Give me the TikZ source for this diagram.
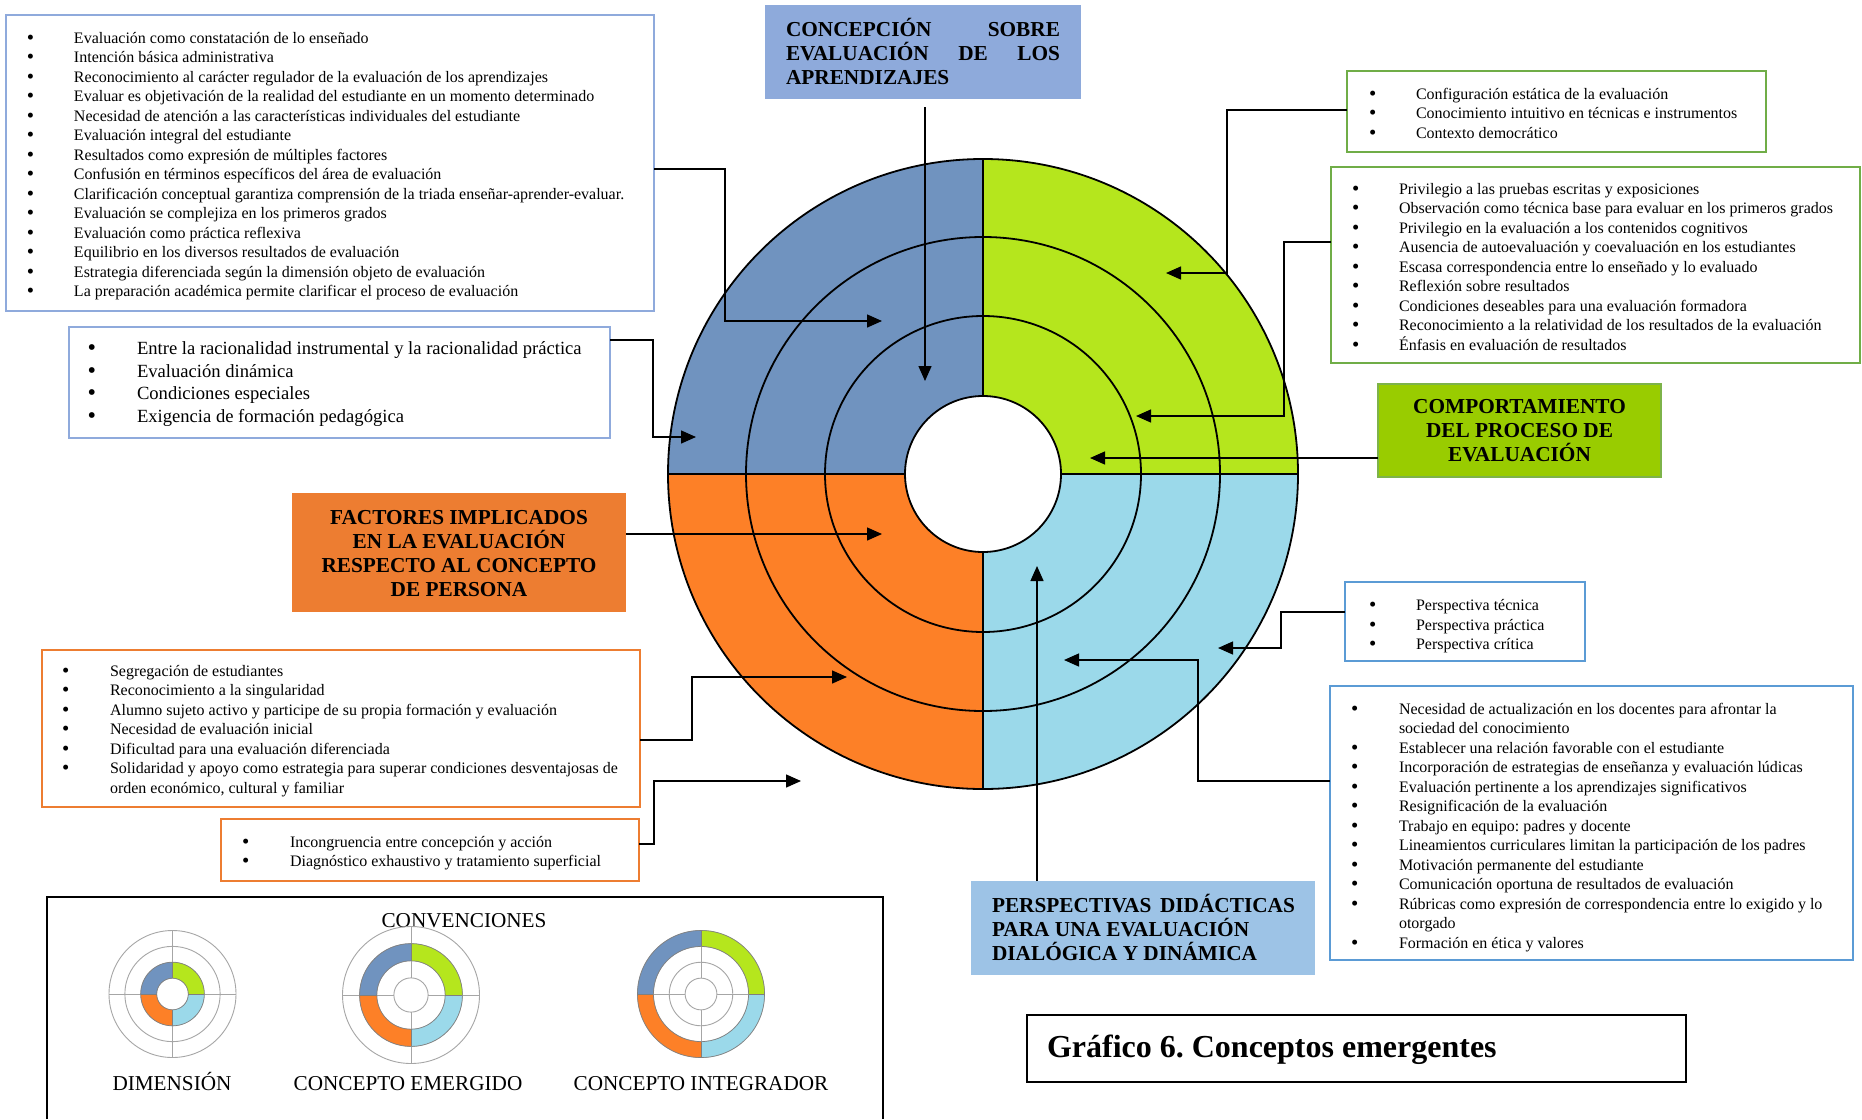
\documentclass[tikz,border=0pt]{standalone}
\usepackage{fontspec}
\setmainfont{Liberation Serif}
\usetikzlibrary{arrows.meta,calc}
\frenchspacing

% quadrant colours of the ring diagram
\definecolor{qblue}{HTML}{7093BF}
\definecolor{qgreen}{HTML}{B5E61D}
\definecolor{qorange}{HTML}{FD8027}
\definecolor{qcyan}{HTML}{9BD9EA}
% outline colours of the list boxes
\definecolor{edgeperi}{HTML}{8FAADC}
\definecolor{edgegreen}{HTML}{70AD47}
\definecolor{edgeorange}{HTML}{ED7D31}
\definecolor{edgeblue}{HTML}{5B9BD5}
% fills of the heading boxes
\definecolor{headblue}{HTML}{8EAADB}
\definecolor{headgreen}{HTML}{99CC00}
\definecolor{headgreenline}{HTML}{7DB34A}
\definecolor{headorange}{HTML}{ED7D31}
\definecolor{headsky}{HTML}{9DC3E6}
\definecolor{icongray}{HTML}{A6A6A6}
\definecolor{icondark}{HTML}{7F7F7F}

\newcommand\listfont{\fontsize{16}{19.5}\selectfont}
\newcommand\bigfont{\fontsize{18.6}{22.6}\selectfont}
\newcommand\headfont{\fontsize{21.3}{24.2}\selectfont\bfseries}
\newcommand\convfont{\fontsize{21.2}{24}\selectfont}

% list bullet, a little heavier than the plain text bullet
\newcommand\bul{\raisebox{-1pt}{\scalebox{1.3}{\textbullet}}}
% bullet list: #1 = distance from bullet to text, #2 = rows
\newcommand\bulletlist[2]{\begin{tabular}[t]{@{}p{#1}@{}l@{}}#2\end{tabular}}

% small legend wheel: centre x, centre y, radius, coloured ring (1 inner .. 3 outer)
\newcommand\ringicon[4]{%
  \begin{scope}[shift={(#1,#2)}]
    \foreach \f in {0.25,0.5,0.75,1}
      \draw[icongray, line width=0.9pt] (0,0) circle ({\f*#3});
    \foreach \a in {0,90,180,270}
      \draw[icongray, line width=0.9pt] (\a:{0.25*#3}) -- (\a:{#3});
    \pgfmathsetmacro\rin{0.25*(#4)*#3}
    \pgfmathsetmacro\rout{0.25*(#4+1)*#3}
    \begin{scope}\clip (0,0) rectangle (-#3-2,-#3-2);
      \fill[qblue, even odd rule] (0,0) circle (\rout) circle (\rin);\end{scope}
    \begin{scope}\clip (0,0) rectangle (#3+2,-#3-2);
      \fill[qgreen, even odd rule] (0,0) circle (\rout) circle (\rin);\end{scope}
    \begin{scope}\clip (0,0) rectangle (-#3-2,#3+2);
      \fill[qorange, even odd rule] (0,0) circle (\rout) circle (\rin);\end{scope}
    \begin{scope}\clip (0,0) rectangle (#3+2,#3+2);
      \fill[qcyan, even odd rule] (0,0) circle (\rout) circle (\rin);\end{scope}
    \draw[icondark, line width=0.6pt] (0,0) circle (\rout) circle (\rin);
    \foreach \a in {0,90,180,270}
      \draw[icondark, line width=0.6pt] (\a:\rin) -- (\a:\rout);
  \end{scope}}

\tikzset{
  listframe/.style={draw=#1, line width=2.5pt, inner sep=0pt, outer sep=0pt, anchor=north west},
  headbox/.style={fill=#1, inner sep=0pt, outer sep=0pt, anchor=north west},
  txt/.style={inner sep=0pt, outer sep=0pt, anchor=base west},
  conn/.style={draw=black, line width=1.4pt, -{Triangle[length=15pt,width=13pt]}},
  ringline/.style={draw=black, line width=1.8pt},
}

\begin{document}
\begin{tikzpicture}[x=1pt,y=-1pt]
\useasboundingbox (0,0) rectangle (1862,1119);
\fill[white] (0,0) rectangle (1862,1119);

% ---------------- central wheel ----------------
\coordinate (O) at (983,474);
\begin{scope}\clip (O) rectangle ++(-317,-317); \fill[qblue] (O) circle (315);\end{scope}
\begin{scope}\clip (O) rectangle ++(317,-317); \fill[qgreen] (O) circle (315);\end{scope}
\begin{scope}\clip (O) rectangle ++(-317,317); \fill[qorange] (O) circle (315);\end{scope}
\begin{scope}\clip (O) rectangle ++(317,317); \fill[qcyan] (O) circle (315);\end{scope}
\draw[ringline] (O) circle (315);
\draw[ringline] (O) circle (237);
\draw[ringline] (O) circle (158);
\draw[ringline, fill=white] (O) circle (78);
\draw[ringline] (O) ++(-315,0) -- ++(237,0);
\draw[ringline] (O) ++(78,0) -- ++(237,0);
\draw[ringline] (O) ++(0,-315) -- ++(0,237);
\draw[ringline] (O) ++(0,78) -- ++(0,237);

% ---------------- heading boxes ----------------
\node[headbox=headblue, minimum width=316, minimum height=94] (tc) at (765,5) {};
\node[txt] (tct) at (786,36) {\parbox[t]{274pt}{\headfont CONCEPCIÓN SOBRE\linebreak EVALUACIÓN DE LOS\linebreak APRENDIZAJES}};

\node[headbox=headorange, minimum width=334, minimum height=119] (tf) at (292,493) {};
\node[txt] (tft) at (309,524) {\parbox[t]{300pt}{\centering\headfont FACTORES IMPLICADOS\\ EN LA EVALUACIÓN\\ RESPECTO AL CONCEPTO\\ DE PERSONA}};

\node[headbox=headgreen, draw=headgreenline, line width=2pt, minimum width=283, minimum height=93] (tg) at (1378,384) {};
\node[txt] (tgt) at (1384.5,413.5) {\parbox[t]{270pt}{\centering\headfont COMPORTAMIENTO\\ DEL PROCESO DE\\ EVALUACIÓN}};

\node[headbox=headsky, minimum width=344, minimum height=94] (tp) at (971,881) {};
\node[txt] (tpt) at (992,912.5) {\parbox[t]{303pt}{\headfont PERSPECTIVAS DIDÁCTICAS\linebreak PARA UNA EVALUACIÓN\\ DIALÓGICA Y DINÁMICA}};

% ---------------- list boxes ----------------
\node[listframe=edgeperi, minimum width=648, minimum height=296] (b1) at (6,15) {};
\node[txt, font=\listfont] (b1t) at (27,43) {\bulletlist{47pt}{%
\bul & Evaluación como constatación de lo enseñado\\
\bul & Intención básica administrativa\\
\bul & Reconocimiento al carácter regulador de la evaluación de los aprendizajes\\
\bul & Evaluar es objetivación de la realidad del estudiante en un momento determinado\\
\bul & Necesidad de atención a las características individuales del estudiante\\
\bul & Evaluación integral del estudiante\\
\bul & Resultados como expresión de múltiples factores\\
\bul & Confusión en términos específicos del área de evaluación\\
\bul & Clarificación conceptual garantiza comprensión de la triada enseñar-aprender-evaluar.\\
\bul & Evaluación se complejiza en los primeros grados\\
\bul & Evaluación como práctica reflexiva\\
\bul & Equilibrio en los diversos resultados de evaluación\\
\bul & Estrategia diferenciada según la dimensión objeto de evaluación\\
\bul & La preparación académica permite clarificar el proceso de evaluación}};

\node[listframe=edgeperi, minimum width=541, minimum height=111] (b2) at (69,327) {};
\node[txt, font=\bigfont] (b2t) at (87.5,354.5) {\bulletlist{49.5pt}{%
\bul & Entre la racionalidad instrumental y la racionalidad práctica\\
\bul & Evaluación dinámica\\
\bul & Condiciones especiales\\
\bul & Exigencia de formación pedagógica}};

\node[listframe=edgegreen, minimum width=419, minimum height=81] (g1) at (1347,71) {};
\node[txt, font=\listfont] (g1t) at (1369,99) {\bulletlist{47pt}{%
\bul & Configuración estática de la evaluación\\
\bul & Conocimiento intuitivo en técnicas e instrumentos\\
\bul & Contexto democrático}};

\node[listframe=edgegreen, minimum width=529, minimum height=196] (g2) at (1331,167) {};
\node[txt, font=\listfont] (g2t) at (1352,194) {\bulletlist{47pt}{%
\bul & Privilegio a las pruebas escritas y exposiciones\\
\bul & Observación como técnica base para evaluar en los primeros grados\\
\bul & Privilegio en la evaluación a los contenidos cognitivos\\
\bul & Ausencia de autoevaluación y coevaluación en los estudiantes\\
\bul & Escasa correspondencia entre lo enseñado y lo evaluado\\
\bul & Reflexión sobre resultados\\
\bul & Condiciones deseables para una evaluación formadora\\
\bul & Reconocimiento a la relatividad de los resultados de la evaluación\\
\bul & Énfasis en evaluación de resultados}};

\node[listframe=edgeorange, minimum width=598, minimum height=157] (o1) at (42,650) {};
\node[txt, font=\listfont] (o1t) at (62,676) {\bulletlist{48pt}{%
\bul & Segregación de estudiantes\\
\bul & Reconocimiento a la singularidad\\
\bul & Alumno sujeto activo y participe de su propia formación y evaluación\\
\bul & Necesidad de evaluación inicial\\
\bul & Dificultad para una evaluación diferenciada\\
\bul & Solidaridad y apoyo como estrategia para superar condiciones desventajosas de\\
 & orden económico, cultural y familiar}};

\node[listframe=edgeorange, minimum width=418, minimum height=62] (o2) at (221,819) {};
\node[txt, font=\listfont] (o2t) at (242,847) {\bulletlist{48pt}{%
\bul & Incongruencia entre concepción y acción\\
\bul & Diagnóstico exhaustivo y tratamiento superficial}};

\node[listframe=edgeblue, minimum width=240, minimum height=79] (s1) at (1345,582) {};
\node[txt, font=\listfont] (s1t) at (1369,610.5) {\bulletlist{47pt}{%
\bul & Perspectiva técnica\\
\bul & Perspectiva práctica\\
\bul & Perspectiva crítica}};

\node[listframe=edgeblue, minimum width=523, minimum height=274] (s2) at (1330,686) {};
\node[txt, font=\listfont] (s2t) at (1351,714) {\bulletlist{48pt}{%
\bul & Necesidad de actualización en los docentes para afrontar la\\
 & sociedad del conocimiento\\
\bul & Establecer una relación favorable con el estudiante\\
\bul & Incorporación de estrategias de enseñanza y evaluación lúdicas\\
\bul & Evaluación pertinente a los aprendizajes significativos\\
\bul & Resignificación de la evaluación\\
\bul & Trabajo en equipo: padres y docente\\
\bul & Lineamientos curriculares limitan la participación de los padres\\
\bul & Motivación permanente del estudiante\\
\bul & Comunicación oportuna de resultados de evaluación\\
\bul & Rúbricas como expresión de correspondencia entre lo exigido y lo\\
 & otorgado\\
\bul & Formación en ética y valores}};

% ---------------- connectors ----------------
\coordinate (t1) at (882,321);
\coordinate (t2) at (925,381);
\coordinate (t3) at (696,437);
\coordinate (t4) at (882,534);
\coordinate (t5) at (847,677);
\coordinate (t6) at (801,781);
\coordinate (t7) at (1166,273);
\coordinate (t8) at (1136,416);
\coordinate (t9) at (1090,458);
\coordinate (t10) at (1218,648);
\coordinate (t11) at (1064,660);
\coordinate (t12) at (1037,566);

\draw[conn] (b1.east |- 0,169) -| (725,321) -- (t1);
\draw[conn] ([yshift=-8pt]tc.south -| t2) -- (t2);
\draw[conn] (b2.east |- 0,340) -| (653,437) -- (t3);
\draw[conn] (tf.east |- t4) -- (t4);
\draw[conn] (o1.east |- 0,740) -| (692,677) -- (t5);
\draw[conn] (o2.east |- 0,844) -| (654,781) -- (t6);
\draw[conn] (g1.west |- 0,110) -| (1227,273) -- (t7);
\draw[conn] (g2.west |- 0,242) -| (1284,416) -- (t8);
\draw[conn] (tg.west |- t9) -- (t9);
\draw[conn] (s1.west |- 0,612) -| (1281,648) -- (t10);
\draw[conn] (s2.west |- 0,781) -| (1198,660) -- (t11);
\draw[conn] (tp.north -| t12) -- (t12);

% ---------------- legend ----------------
\draw[black, line width=1.6pt] (47,1119) |- (883,897) -- (883,1119);
\node[inner sep=0pt, anchor=base, font=\convfont] (convt) at (464,927) {CONVENCIONES};
\ringicon{172.5}{994}{63.5}{1}
\ringicon{411}{995}{68.5}{2}
\ringicon{701}{994}{63.5}{3}
\node[inner sep=0pt, anchor=base, font=\convfont] (ldim) at (172,1090) {DIMENSIÓN};
\node[inner sep=0pt, anchor=base, font=\convfont] (lemer) at (408,1090) {CONCEPTO EMERGIDO};
\node[inner sep=0pt, anchor=base, font=\convfont] (linteg) at (701,1090) {CONCEPTO INTEGRADOR};

% ---------------- caption ----------------
\node[draw=black, line width=2.4pt, inner sep=0pt, outer sep=0pt, anchor=north west,
      minimum width=659, minimum height=67] (gbox) at (1027,1015) {};
\node[txt, font=\fontsize{32}{36}\selectfont\bfseries] (gtext) at (1047,1057) {Gráfico 6. Conceptos emergentes};
\end{tikzpicture}
\end{document}
